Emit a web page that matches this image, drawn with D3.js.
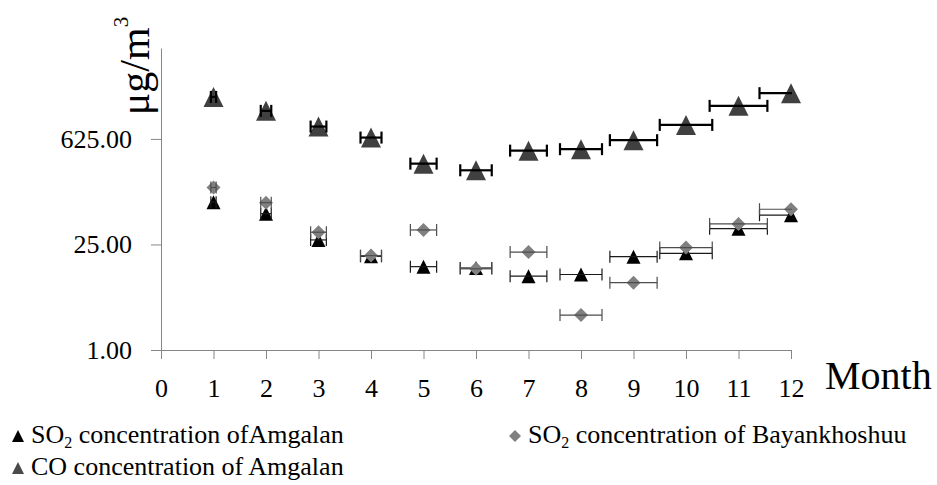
<html>

<head>
    <title>monthly concentrations</title>
    <meta charset="utf-8" />
    <script src="https://cdn.jsdelivr.net/npm/d3@7/dist/d3.min.js" type="text/JavaScript"></script>
</head>
<style>
    body {
        margin: 0;
        background: white;
    }
    svg text {
        font-family: "Liberation Serif", serif;
    }
    .axis path,
    .axis line {
        stroke: #868686;
        stroke-width: 1px;
    }
    .axis text {
        fill: black;
        font-size: 26px;
    }
</style>

<body>
    <svg id="chart" width="937" height="485"></svg>
</body>
<footer>

    <script>
        var months = [1, 2, 3, 4, 5, 6, 7, 8, 9, 10, 11, 12];
        var xTicks = [0, 1, 2, 3, 4, 5, 6, 7, 8, 9, 10, 11, 12];
        var yTicks = [1, 25, 625];

        var so2Amgalan = [90.9, 64, 28.7, 17.4, 12.7, 12.2, 9.5, 10.0, 17.2, 19.1, 40.5, 61];
        var so2Bayankhoshuu = [142, 89.5, 36.3, 17.8, 38.9, 11.9, 19.8, 2.9, 7.8, 22.7, 46.7, 73.2];
        var coAmgalan = [2250, 1470, 911, 651, 294, 240, 437, 457, 601, 958, 1712, 2521];

        // horizontal error amounts (in months)
        var monthErr = [0.05, 0.1, 0.15, 0.2, 0.25, 0.3, 0.35, 0.4, 0.45, 0.5, 0.55, 0.6];

        var svg = d3.select("#chart");

        var x = d3.scaleLinear().domain([0, 12]).range([161, 791]);
        var y = d3.scaleLog().base(25).domain([1, 10000]).range([350, 48]);

        // triangle / diamond centred on their bounding box
        var triangle = {
            draw: function(ctx, size) {
                var h = Math.sqrt(size);
                ctx.moveTo(0, -h / 2);
                ctx.lineTo(h / 2, h / 2);
                ctx.lineTo(-h / 2, h / 2);
                ctx.closePath();
            }
        };
        var diamond = {
            draw: function(ctx, size) {
                var h = Math.sqrt(size) / 2;
                ctx.moveTo(0, -h);
                ctx.lineTo(h, 0);
                ctx.lineTo(0, h);
                ctx.lineTo(-h, 0);
                ctx.closePath();
            }
        };

        // axes
        svg.append("g")
            .classed("axis", true)
            .attr("transform", "translate(0,350)")
            .call(d3.axisBottom(x).tickValues(xTicks).tickSize(9).tickSizeOuter(0).tickPadding(20));

        svg.append("g")
            .classed("axis", true)
            .attr("transform", "translate(161,0)")
            .call(d3.axisLeft(y).tickValues(yTicks).tickFormat(d3.format(".2f")).tickSize(10).tickSizeOuter(0).tickPadding(19));

        svg.selectAll(".axis").attr("font-family", null).attr("font-size", null);

        svg.append("text")
            .attr("x", 825)
            .attr("y", 389)
            .style("font-size", "40px")
            .text("Month");

        var yLab = svg.append("text")
            .attr("transform", "translate(149,66) rotate(-90)")
            .attr("text-anchor", "middle")
            .style("font-size", "42px");
        yLab.append("tspan").text("μg/m");
        yLab.append("tspan").attr("dy", -21).style("font-size", "21px").text("3");

        svg.append("defs").append("clipPath")
            .attr("id", "plotClip")
            .append("rect")
            .attr("x", 160).attr("y", 0).attr("width", 632).attr("height", 485);

        function drawSeries(values, opt) {
            var g = svg.append("g").classed("series", true);

            g.selectAll("path.marker")
                .data(values)
                .enter()
                .append("path")
                .classed("marker", true)
                .attr("transform", function(d, i) {
                    return "translate(" + x(months[i]) + "," + y(d) + ")";
                })
                .attr("d", d3.symbol().type(opt.shape).size(opt.size * opt.size))
                .style("fill", opt.fill);

            var bars = g.append("g")
                .attr("clip-path", "url(#plotClip)")
                .selectAll("g")
                .data(values)
                .enter()
                .append("g")
                .attr("transform", function(d, i) {
                    return "translate(0," + y(d) + ")";
                })
                .style("stroke", opt.barColor)
                .style("stroke-width", opt.barWidth);

            bars.append("line")
                .attr("x1", function(d, i) { return x(months[i] - monthErr[i]); })
                .attr("x2", function(d, i) { return x(months[i] + monthErr[i]); });
            bars.append("line")
                .attr("x1", function(d, i) { return x(months[i] - monthErr[i]); })
                .attr("x2", function(d, i) { return x(months[i] - monthErr[i]); })
                .attr("y1", -6).attr("y2", 6);
            bars.append("line")
                .attr("x1", function(d, i) { return x(months[i] + monthErr[i]); })
                .attr("x2", function(d, i) { return x(months[i] + monthErr[i]); })
                .attr("y1", -6).attr("y2", 6);
        }

        drawSeries(so2Amgalan, { shape: triangle, size: 14, fill: "#000000", barColor: "#1a1a1a", barWidth: 1.2 });
        drawSeries(so2Bayankhoshuu, { shape: diamond, size: 14, fill: "#808080", barColor: "#4d4d4d", barWidth: 1.2 });
        drawSeries(coAmgalan, { shape: triangle, size: 20, fill: "#404040", barColor: "#000000", barWidth: 2.2 });

        // legend
        var legendItems = [
            { label: ["SO", "2", " concentration ofAmgalan"], shape: triangle, fill: "#000000", x: 18, y: 436 },
            { label: ["SO", "2", " concentration of Bayankhoshuu"], shape: diamond, fill: "#808080", x: 515, y: 436 },
            { label: ["CO concentration of Amgalan"], shape: triangle, fill: "#4a4a4a", x: 18, y: 468 }
        ];

        var leg = svg.selectAll("g.legend")
            .data(legendItems)
            .enter()
            .append("g")
            .classed("legend", true)
            .attr("transform", function(d) { return "translate(" + d.x + "," + d.y + ")"; });

        leg.append("path")
            .attr("d", function(d) { return d3.symbol().type(d.shape).size(12 * 12)(); })
            .style("fill", function(d) { return d.fill; });

        var legText = leg.append("text")
            .attr("x", 13)
            .attr("y", 7)
            .style("font-size", "26px");

        legText.each(function(d) {
            var t = d3.select(this);
            if (d.label.length == 1) {
                t.text(d.label[0]);
                return;
            }
            t.append("tspan").text(d.label[0]);
            t.append("tspan").attr("dy", 5).style("font-size", "16px").text(d.label[1]);
            t.append("tspan").attr("dy", -5).text(d.label[2]);
        });
    </script>
</footer>

</html>
